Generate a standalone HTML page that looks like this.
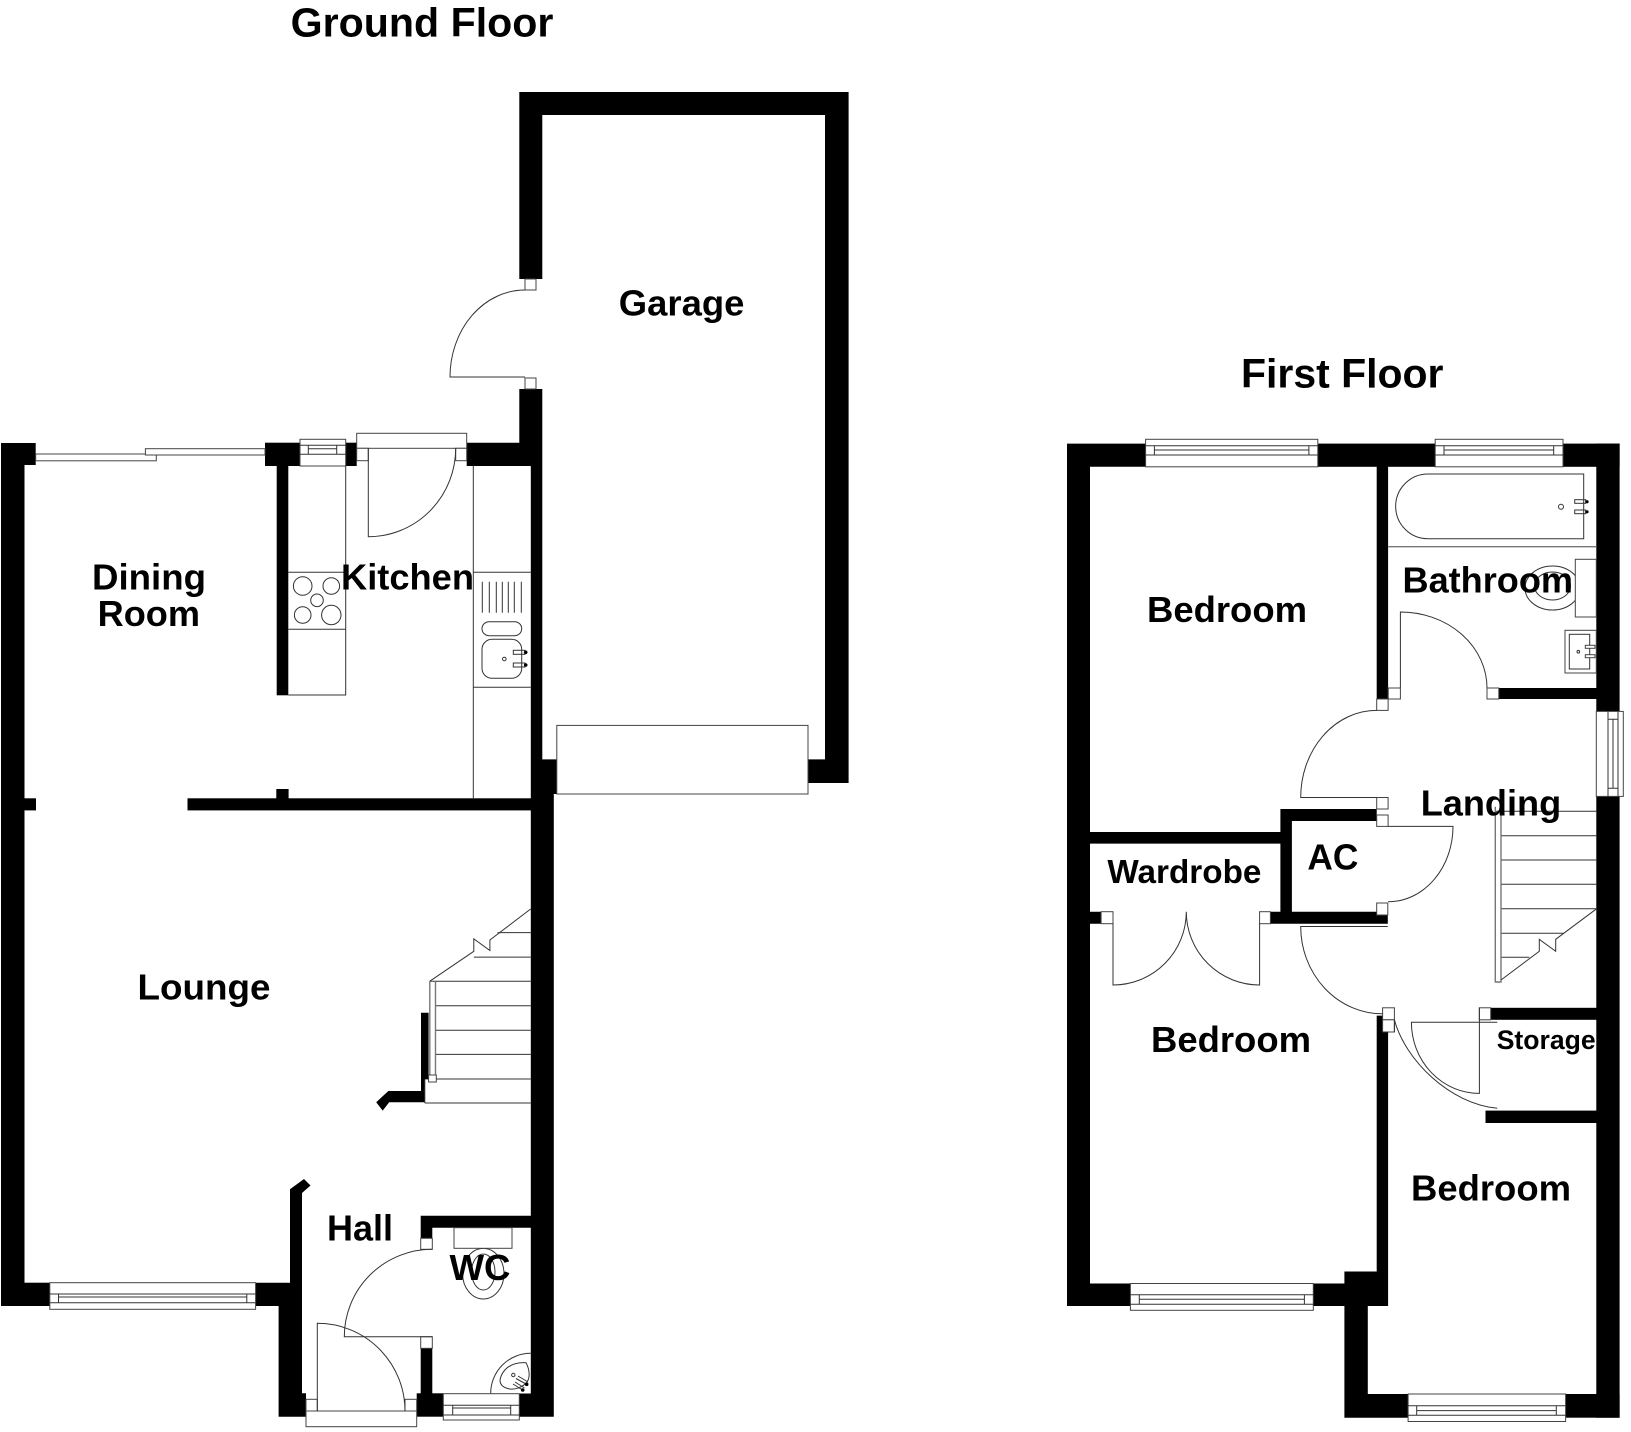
<!DOCTYPE html>
<html>
<head>
<meta charset="utf-8">
<title>Floor plan</title>
<style>
html,body{margin:0;padding:0;background:#fff;width:1631px;height:1432px;overflow:hidden}
svg{display:block;position:absolute;left:0;top:0}
.l{fill:none;stroke:#333;stroke-width:1}
.w{fill:#fff;stroke:#444;stroke-width:1}
.g{fill:none;stroke:#777;stroke-width:1.4}
text{font-family:"Liberation Sans",Arial,sans-serif;font-weight:bold;fill:#000}
</style>
</head>
<body>
<svg width="1631" height="1432" viewBox="0 0 1631 1432" xmlns="http://www.w3.org/2000/svg">
<rect width="1631" height="1432" fill="#fff"/>

<!-- GROUND FLOOR WALLS -->
<g fill="#000">
<!-- garage -->
<polygon points="519.3,279 519.3,92 848.6,92 848.6,783 808,783 808,759.4 825,759.4 825,115 542.3,115 542.3,279"/>
<polygon points="519.3,389 542.3,389 542.3,759.4 556.8,759.4 556.8,794 553.8,794 553.8,1416.7 519.3,1416.7 519.3,1393.5 530.8,1393.5 530.8,466 466.7,466 466.7,442.7 519.3,442.7"/>
<!-- left -->
<rect x="1" y="443" width="23.5" height="863"/>
<rect x="1" y="443" width="34.7" height="22"/>
<rect x="1" y="1282.7" width="48.8" height="23.3"/>
<rect x="24" y="798.3" width="12" height="12.1"/>
<polygon points="255.6,1282.7 290,1282.7 290,1189.3 304,1179 310.5,1185.5 302,1193 302,1393.3 306,1393.3 306,1416.7 278.6,1416.7 278.6,1306 255.6,1306"/>
<!-- partition -->
<rect x="187.5" y="798.3" width="343.5" height="12.1"/>
<rect x="276.3" y="789" width="12.3" height="10"/>
<!-- dining/kitchen -->
<rect x="265" y="442.7" width="35" height="23.3"/>
<rect x="345.7" y="442.7" width="11" height="23.3"/>
<rect x="276.7" y="466" width="11.6" height="229.3"/>
<!-- stairs wall -->
<polygon points="421,1012.8 428.6,1012.8 428.6,1079.4 424.8,1079.4 424.8,1102.2 389.2,1102.2 382.7,1110.6 376.2,1102.2 388.4,1091 421,1091"/>
<!-- WC -->
<polygon points="420.7,1238.3 420.7,1215.7 531,1215.7 531,1227.7 432.3,1227.7 432.3,1238.3"/>
<rect x="420.7" y="1348.3" width="11.6" height="46"/>
<rect x="416.7" y="1393.3" width="26.6" height="23.4"/>
</g>

<!-- GROUND FLOOR FIXTURES -->
<rect class="w" x="525" y="279" width="11" height="11"/>
<rect class="w" x="525" y="378" width="11" height="11"/>
<path class="l" d="M525,290 A75,87 0 0 0 450,377 L525,377"/>
<rect class="w" x="556.8" y="725.4" width="251.2" height="68.6"/>
<rect class="w" x="35.7" y="454" width="120.6" height="6.8"/>
<rect class="w" x="145.4" y="448.7" width="119.6" height="6.3"/>
<rect class="w" x="300" y="439.3" width="45.7" height="26.7"/>
<path class="l" d="M300,445.3H345.7M300,454.3H345.7M308.3,445.3V454.3M336.7,445.3V454.3M308.3,448.8H336.7"/>
<rect class="w" x="356.7" y="433.3" width="110" height="15"/>
<rect class="w" x="356.7" y="448.3" width="11.6" height="12.4"/>
<rect class="w" x="455.7" y="448.3" width="11" height="12.4"/>
<path class="l" d="M368.3,448.3V536.7A87.4,88.4 0 0 0 455.7,448.3"/>
<path class="l" d="M345.7,466V695H288.3M288.3,572.3H345.7M288.3,629.3H345.7"/>
<circle class="l" cx="302.7" cy="586" r="9.3"/>
<circle class="l" cx="331.3" cy="586" r="8.3"/>
<circle class="l" cx="317" cy="600.3" r="6.3"/>
<circle class="l" cx="302.7" cy="615" r="8.3"/>
<circle class="l" cx="331.3" cy="615" r="9.7"/>
<path class="l" d="M473.3,466V798.3M473.3,572.3H530.7M473.3,687.3H530.7"/>
<path class="l" d="M482.3,581.7V612.7M489.3,581.7V612.7M496.3,581.7V612.7M502.3,581.7V612.7M508.3,581.7V612.7M514.3,581.7V612.7M521.3,581.7V612.7"/>
<rect class="l" x="482" y="621.7" width="39.7" height="14" rx="7"/>
<rect class="l" x="482" y="639.3" width="39.7" height="39" rx="10"/>
<circle class="l" cx="504.3" cy="659" r="1.8"/>
<rect class="l" x="513.3" y="650.3" width="11.7" height="4"/>
<rect class="l" x="513.3" y="663" width="11.7" height="4"/>
<circle cx="525.7" cy="652.3" r="1.8" fill="#000"/>
<circle cx="525.7" cy="665" r="1.8" fill="#000"/>
<path class="l" d="M497.5,932.6H530.8M473.8,957.1H530.8M429.8,981.2H530.8M435.5,1005.8H530.8M435.5,1030.3H530.8M435.5,1054.4H530.8M429.8,1079H530.8M424.8,1103H530.8"/>
<path class="l" d="M530.8,908.9L489.9,940V950.5L473.8,938.8V951.3L429.8,981.2"/>
<path class="g" d="M429.8,981.2V1076M435.5,981.2V1076"/>
<rect class="w" x="428.6" y="1075" width="7.7" height="7"/>
<path class="l" d="M424.8,1079.4V1103"/>
<rect class="w" x="49.8" y="1282.7" width="205.8" height="26.6"/>
<path class="l" d="M49.8,1294H255.6M49.8,1302.7H255.6M58.5,1294V1302.7M246.8,1294V1302.7M58.5,1297H246.8"/>
<rect class="w" x="306" y="1411" width="110.7" height="15.7"/>
<rect class="w" x="306" y="1399.3" width="11.3" height="11.7"/>
<rect class="w" x="405" y="1399.3" width="11.7" height="11.7"/>
<path class="l" d="M317.3,1411V1323.3A87.7,87.7 0 0 1 405,1411"/>
<rect class="w" x="420.7" y="1238.3" width="11.6" height="11"/>
<rect class="w" x="420.7" y="1336.7" width="11.6" height="11.6"/>
<path class="l" d="M432.3,1336.7H344.3A88,87.4 0 0 1 432.3,1249.3"/>
<ellipse class="l" cx="483.3" cy="1273.7" rx="20.7" ry="25.3"/>
<ellipse class="l" cx="483.3" cy="1272" rx="11.7" ry="18"/>
<rect class="w" x="454" y="1227.7" width="58" height="20.6"/>
<rect class="w" x="443.3" y="1393.7" width="76" height="26.3"/>
<path class="l" d="M443.3,1405.3H519.3M443.3,1415H519.3M452.7,1405.3V1415M510.7,1405.3V1415M452.7,1408H510.7"/>
<path class="l" d="M490.7,1393.3A40,40 0 0 1 530.7,1353.3"/>
<path class="l" d="M500,1380C502,1370 510,1362 526,1362.7C530,1370 530,1378 527,1382C522,1388 515,1389.5 510,1389C504,1388 500,1385 500,1380Z"/>
<circle class="l" cx="513.3" cy="1375" r="1.7"/>
<path class="l" d="M516,1378.5L526,1384M513,1384L522.5,1390M518,1376L528,1382M515,1382L524.5,1388"/>
<circle cx="526.7" cy="1384.3" r="1.8" fill="#000"/>
<circle cx="522.7" cy="1390" r="1.8" fill="#000"/>

<!-- FIRST FLOOR WALLS -->
<g fill="#000">
<polygon points="1067,443.6 1145.6,443.6 1145.6,466.8 1090,466.8 1090,832 1280.4,832 1280.4,809 1376.7,809 1376.7,815 1388.1,815 1388.1,821 1291.9,821 1291.9,911.7 1376.7,911.7 1376.7,915 1387.8,915 1387.8,923.7 1270.4,923.7 1270.4,911.7 1280.4,911.7 1280.4,843.6 1090,843.6 1090,911.7 1101.1,911.7 1101.1,923.7 1090,923.7 1090,1283.5 1130.4,1283.5 1130.4,1306 1067,1306"/>
<rect x="1317.8" y="443.6" width="117.4" height="23.2"/>
<rect x="1563" y="443.6" width="56.6" height="23.2"/>
<rect x="1596.3" y="443.6" width="23.3" height="267.8"/>
<rect x="1596.3" y="796.4" width="23.3" height="621.3"/>
<rect x="1376.7" y="466" width="11.4" height="233"/>
<rect x="1498.8" y="688" width="98" height="11"/>
<rect x="1490.7" y="1007.8" width="106" height="12"/>
<rect x="1485.5" y="1110.6" width="111.5" height="12.4"/>
<polygon points="1313.3,1283.5 1344.4,1283.5 1344.4,1271.5 1376.7,1271.5 1376.7,1015.6 1388.1,1015.6 1388.1,1306 1367.8,1306 1367.8,1394 1408.1,1394 1408.1,1417.7 1344.4,1417.7 1344.4,1306 1313.3,1306"/>
<rect x="1565.6" y="1394" width="54" height="23.7"/>
</g>

<!-- FIRST FLOOR FIXTURES -->
<rect class="w" x="1145.6" y="439.3" width="172.2" height="27.5"/>
<path class="l" d="M1145.6,445.7H1317.8M1145.6,455H1317.8M1154.4,445.7V455M1308.9,445.7V455M1154.4,450H1308.9"/>
<rect class="w" x="1435.2" y="439.3" width="127.8" height="27.5"/>
<path class="l" d="M1435.2,445.7H1563M1435.2,455H1563M1444,445.7V455M1553.7,445.7V455M1444,450H1553.7"/>
<rect class="w" x="1596.3" y="711.4" width="27" height="85"/>
<path class="l" d="M1608,711.4V796.4M1618,711.4V796.4M1608,719.3H1618M1608,788.2H1618M1613,719.3V788.2"/>
<rect class="w" x="1130.4" y="1283.5" width="182.9" height="26.8"/>
<path class="l" d="M1130.4,1294.8H1313.3M1130.4,1304.3H1313.3M1139.3,1294.8V1304.3M1304.4,1294.8V1304.3M1139.3,1299.3H1304.4"/>
<rect class="w" x="1408.1" y="1394" width="157.5" height="27.5"/>
<path class="l" d="M1408.1,1405.7H1565.6M1408.1,1415.2H1565.6M1416.7,1405.7V1415.2M1556.3,1405.7V1415.2M1416.7,1410.6H1556.3"/>
<!-- bath -->
<path class="l" d="M1583.7,474V538.7H1428A32.3,32.3 0 0 1 1428,474Z"/>
<circle class="l" cx="1561" cy="506.7" r="2.5"/>
<rect class="l" x="1574.7" y="499.7" width="11" height="3.6"/>
<rect class="l" x="1574.7" y="510" width="11" height="3.7"/>
<circle cx="1587" cy="501.7" r="1.6" fill="#000"/>
<circle cx="1587" cy="511.8" r="1.6" fill="#000"/>
<path class="g" d="M1388.1,546.7H1596.3"/>
<!-- toilet -->
<ellipse class="l" cx="1552.5" cy="588" rx="27.5" ry="22"/>
<ellipse class="l" cx="1552.5" cy="586" rx="18" ry="14"/>
<rect class="w" x="1575.3" y="559.3" width="21" height="57.7"/>
<!-- basin -->
<rect class="w" x="1565" y="630.3" width="31.3" height="42.7"/>
<rect class="l" x="1569.3" y="634.3" width="20.4" height="34.7"/>
<circle class="l" cx="1578.3" cy="651.7" r="1.3"/>
<rect class="w" x="1585.3" y="645.3" width="9.7" height="3"/>
<rect class="w" x="1585.3" y="654.7" width="9.7" height="3"/>
<!-- bathroom door -->
<rect class="w" x="1376.7" y="699" width="11.4" height="11.4"/>
<rect class="w" x="1388.1" y="688" width="12.3" height="11"/>
<rect class="w" x="1487" y="688" width="11.8" height="11"/>
<path class="l" d="M1400.4,688V612A86.6,76 0 0 1 1487,688"/>
<path class="l" d="M1388.1,688V699"/>
<!-- bedroom 1 door -->
<rect class="w" x="1376.7" y="797.5" width="11.4" height="11.5"/>
<path class="l" d="M1376.7,710.4A76,87.1 0 0 0 1300.7,797.5H1376.7"/>
<!-- AC door -->
<rect class="w" x="1376.7" y="815" width="11.4" height="11.4"/>
<rect class="w" x="1376.7" y="903" width="11.1" height="12"/>
<path class="l" d="M1388.1,826.4H1453A64.9,75.4 0 0 1 1388.1,901.8"/>
<!-- wardrobe doors -->
<rect class="w" x="1101.1" y="911.7" width="11.9" height="12"/>
<rect class="w" x="1259.6" y="911.7" width="10.8" height="12"/>
<path class="l" d="M1113,923.7V985A73.3,73.3 0 0 0 1186.3,911.7A73.3,73.3 0 0 0 1259.6,985V923.7"/>
<!-- bedroom 2 door -->
<path class="l" d="M1387.8,926.5H1300.7A81.9,87.3 0 0 0 1382.6,1013.8"/>
<rect class="w" x="1382.6" y="1007.8" width="11.8" height="12"/>
<rect class="w" x="1382.6" y="1019.8" width="11.8" height="12.2" stroke="none"/>
<path class="l" d="M1388.1,1032H1382.6M1394.4,1019.8V1032"/>
<!-- bedroom 3 / storage doors -->
<path class="l" d="M1394.4,1019.8C1405,1060 1450,1104 1497.3,1108.3"/>
<rect class="w" x="1479.3" y="1007.8" width="11.4" height="12"/>
<path class="l" d="M1497.3,1022.3H1411.4A68,71.1 0 0 0 1479.4,1093.4V1007.8"/>
<!-- landing stairs -->
<path class="l" d="M1495.3,811.3H1596.7M1501,835.7H1596.7M1501,860H1596.7M1501,884.3H1596.7M1501,908.7H1596.7M1501,933.3H1563.3M1501,957.3H1529.3"/>
<path class="g" d="M1495.3,806.7V982H1501V811"/>
<path class="l" d="M1596.7,908.7L1555.7,939.3V951.3L1539.3,939.3V951.3L1501,980"/>

<!-- LABELS -->
<text x="290.7" y="36.6" font-size="41" textLength="262.7" lengthAdjust="spacingAndGlyphs">Ground Floor</text>
<text x="618.8" y="315.5" font-size="36" textLength="125.6" lengthAdjust="spacingAndGlyphs">Garage</text>
<text x="92" y="589.4" font-size="36" textLength="114" lengthAdjust="spacingAndGlyphs">Dining</text>
<text x="97.6" y="626" font-size="36" textLength="102.4" lengthAdjust="spacingAndGlyphs">Room</text>
<text x="341" y="589.3" font-size="36" textLength="133" lengthAdjust="spacingAndGlyphs">Kitchen</text>
<text x="137.5" y="999.5" font-size="36" textLength="133" lengthAdjust="spacingAndGlyphs">Lounge</text>
<text x="327" y="1240.7" font-size="36" textLength="66" lengthAdjust="spacingAndGlyphs">Hall</text>
<text x="449.5" y="1280" font-size="36" textLength="61" lengthAdjust="spacingAndGlyphs">WC</text>
<text x="1241" y="387.5" font-size="41" textLength="202.5" lengthAdjust="spacingAndGlyphs">First Floor</text>
<text x="1147" y="622" font-size="36" textLength="160" lengthAdjust="spacingAndGlyphs">Bedroom</text>
<text x="1402.5" y="592.3" font-size="36" textLength="170.5" lengthAdjust="spacingAndGlyphs">Bathroom</text>
<text x="1420.7" y="815.7" font-size="36" textLength="140.5" lengthAdjust="spacingAndGlyphs">Landing</text>
<text x="1307.4" y="869.3" font-size="36" textLength="51" lengthAdjust="spacingAndGlyphs">AC</text>
<text x="1107.4" y="883" font-size="33" textLength="154" lengthAdjust="spacingAndGlyphs">Wardrobe</text>
<text x="1151" y="1051.8" font-size="36" textLength="160" lengthAdjust="spacingAndGlyphs">Bedroom</text>
<text x="1496.7" y="1049" font-size="26.5" textLength="99" lengthAdjust="spacingAndGlyphs">Storage</text>
<text x="1411" y="1200.4" font-size="36" textLength="160" lengthAdjust="spacingAndGlyphs">Bedroom</text>
</svg>
</body>
</html>
